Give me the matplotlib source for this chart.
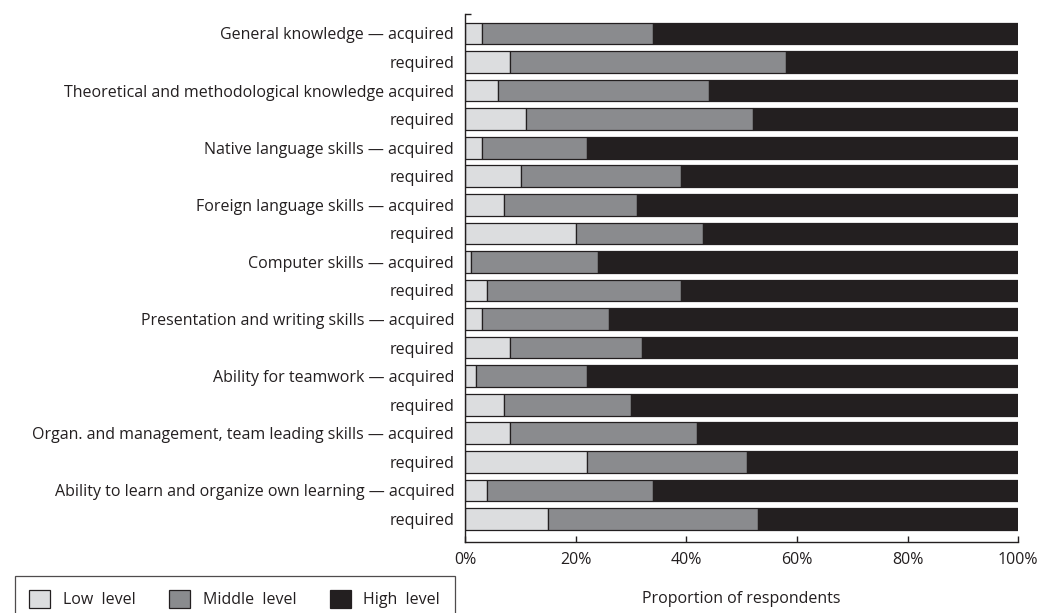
import matplotlib.pyplot as plt
from matplotlib.patches import Patch

plt.rcParams['font.family'] = ['Open Sans', 'DejaVu Sans']

labels = [
    "General knowledge — acquired", "required",
    "Theoretical and methodological knowledge acquired", "required",
    "Native language skills — acquired", "required",
    "Foreign language skills — acquired", "required",
    "Computer skills — acquired", "required",
    "Presentation and writing skills — acquired", "required",
    "Ability for teamwork — acquired", "required",
    "Organ. and management, team leading skills — acquired", "required",
    "Ability to learn and organize own learning — acquired", "required",
]
low = [3, 8, 6, 11, 3, 10, 7, 20, 1, 4, 3, 8, 2, 7, 8, 22, 4, 15]
middle = [31, 50, 38, 41, 19, 29, 24, 23, 23, 35, 23, 24, 20, 23, 34, 29, 30, 38]
high = [100 - a - b for a, b in zip(low, middle)]

c_low = "#dcdddf"
c_mid = "#8a8b8e"
c_high = "#231f20"
edge = "#231f20"

fig = plt.figure(figsize=(10.41, 6.13), dpi=100)
ax = fig.add_axes([0.447, 0.116, 0.531, 0.861])

y = list(range(len(labels)))
h = 0.76
ax.barh(y, low, height=h, color=c_low, edgecolor=edge, linewidth=0.9)
ax.barh(y, middle, left=low, height=h, color=c_mid, edgecolor=edge, linewidth=0.9)
left3 = [a + b for a, b in zip(low, middle)]
ax.barh(y, high, left=left3, height=h, color=c_high, edgecolor=edge, linewidth=0.9)

ax.set_xlim(0, 100)
ax.set_ylim(17.8, -0.675)
ax.set_yticks(y)
ax.set_yticklabels(labels, fontsize=11.5, color="#231f20")
ax.tick_params(axis='y', length=0, pad=8)
ax.set_yticks([-0.675], minor=True)
ax.tick_params(axis='y', which='minor', direction='in', length=4, width=1, color=edge)

ax.set_xticks([0, 20, 40, 60, 80, 100])
ax.set_xticklabels(["0%", "20%", "40%", "60%", "80%", "100%"], fontsize=11.5, color="#231f20")
ax.tick_params(axis='x', direction='in', length=4, width=1, color=edge, pad=7)
ax.set_xlabel("Proportion of respondents", fontsize=11.5, color="#231f20", labelpad=17)

for s in ['top', 'right']:
    ax.spines[s].set_visible(False)
for s in ['left', 'bottom']:
    ax.spines[s].set_color(edge)
    ax.spines[s].set_linewidth(1)

handles = [
    Patch(facecolor=c_low, edgecolor=edge, linewidth=0.9, label="Low  level"),
    Patch(facecolor=c_mid, edgecolor=edge, linewidth=0.9, label="Middle  level"),
    Patch(facecolor=c_high, edgecolor=edge, linewidth=0.9, label="High  level"),
]
leg = fig.legend(handles=handles, loc='upper left', bbox_to_anchor=(0.0144, 0.0605),
                 ncol=3, fontsize=11.5, frameon=True, fancybox=False,
                 handlelength=1.3, handleheight=1.3, columnspacing=2.1,
                 borderpad=0.9, handletextpad=0.8, borderaxespad=0)
leg.get_frame().set_edgecolor(edge)
leg.get_frame().set_linewidth(0.9)
for t in leg.get_texts():
    t.set_color("#231f20")

fig.savefig("out.png", dpi=100)
